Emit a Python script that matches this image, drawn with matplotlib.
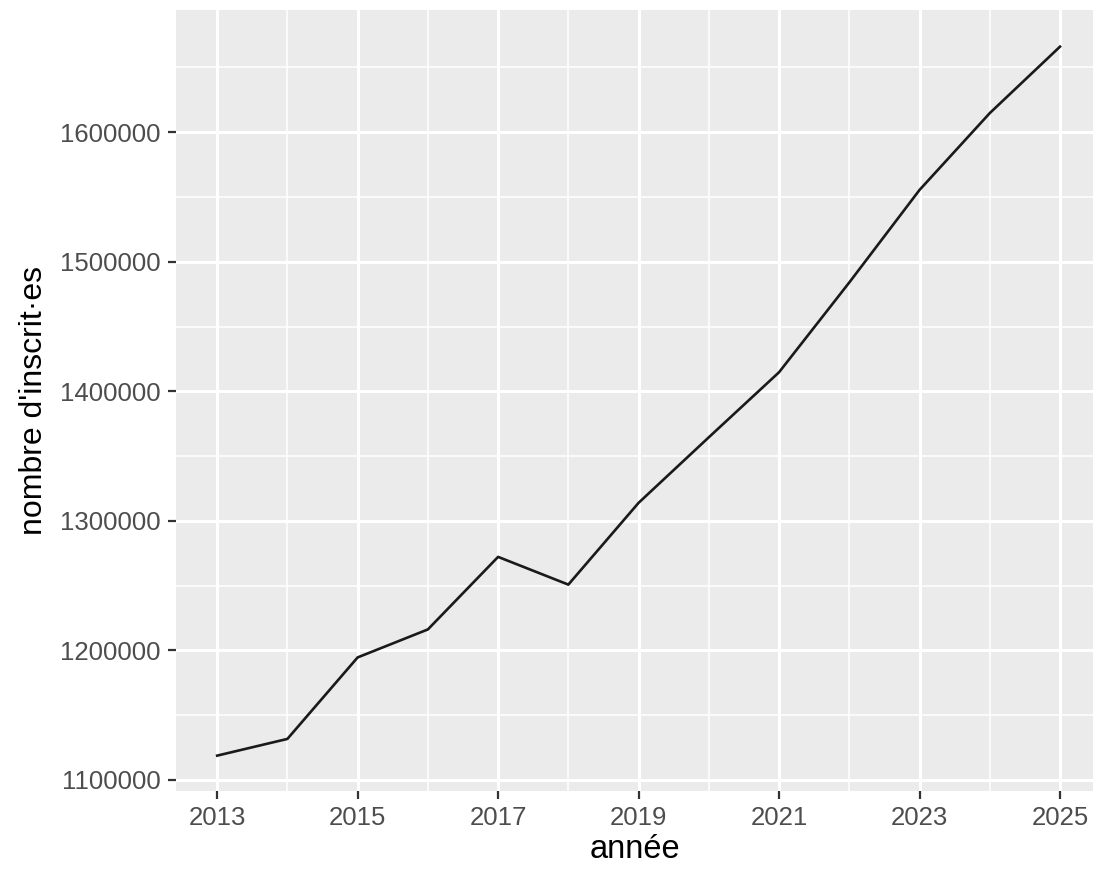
import matplotlib
matplotlib.use("Agg")
import matplotlib.pyplot as plt
from matplotlib.ticker import MultipleLocator

# effectifs par année
annees = [2013, 2014, 2015, 2016, 2017, 2018, 2019, 2020, 2021, 2022, 2023, 2024, 2025]
inscrits = [1118800, 1131700, 1194600, 1216200, 1272200, 1250800, 1313900,
            1364500, 1414700, 1484000, 1555400, 1614700, 1666000]
x_ticks = [2013, 2015, 2017, 2019, 2021, 2023, 2025]
y_ticks = [1100000, 1200000, 1300000, 1400000, 1500000, 1600000]

plt.rcParams['font.family'] = ['Liberation Sans', 'DejaVu Sans']

fig = plt.figure(figsize=(10.93, 8.73), dpi=100)
# panel position in pixels: left 176, right 1093, top 10, bottom 791
ax = fig.add_axes([176 / 1093, 1 - 791 / 873, (1093 - 176) / 1093, (791 - 10) / 873])
ax.set_facecolor('#EBEBEB')
for s in ax.spines.values():
    s.set_visible(False)

ax.plot(annees, inscrits, color='#1a1a1a', lw=1.9, zorder=3)

ax.set_xlim(2012.414, 2025.47)
ax.set_ylim(1091500, 1694300)
ax.set_xticks(x_ticks)
ax.set_yticks(y_ticks)
ax.xaxis.set_minor_locator(MultipleLocator(1))
ax.yaxis.set_minor_locator(MultipleLocator(50000))
ax.set_xticklabels([str(v) for v in x_ticks])
ax.set_yticklabels([str(v) for v in y_ticks])

ax.grid(which='major', color='white', lw=2.2, zorder=1)
ax.grid(which='minor', color='white', lw=1.1, zorder=1)
ax.set_axisbelow(True)

ax.tick_params(which='major', length=6, width=1.6, color='#333333',
               labelsize=18.5, labelcolor='#4D4D4D', pad=5)
ax.tick_params(which='minor', length=0)

ax.set_xlabel('année', fontsize=23.5, color='black', labelpad=3)
ax.set_ylabel("nombre d'inscrit·es", fontsize=23, color='black', labelpad=8)

fig.savefig('out.png', dpi=100)
